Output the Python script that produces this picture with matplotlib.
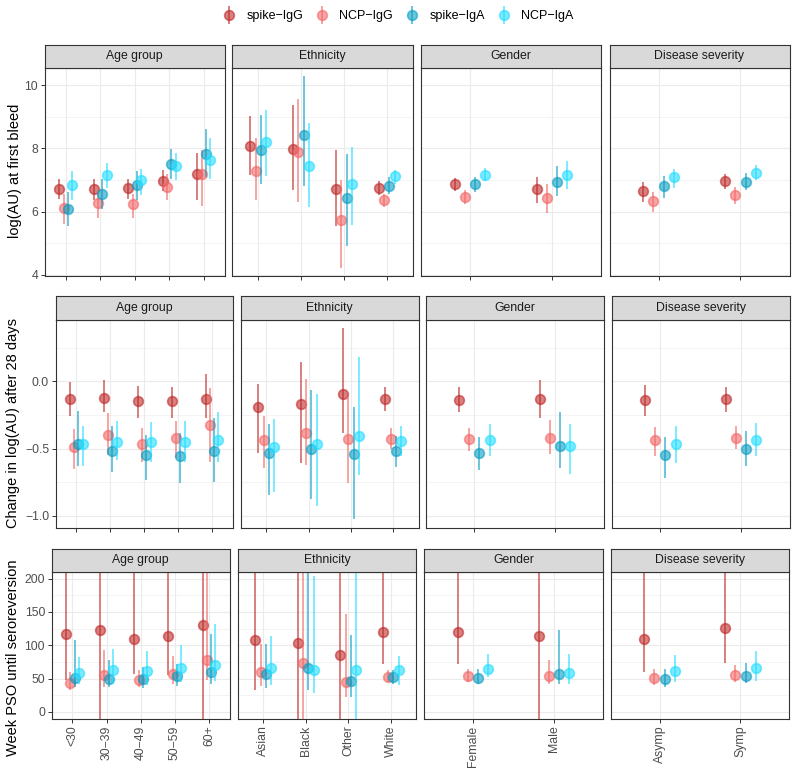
import matplotlib
matplotlib.use('Agg')
import matplotlib.pyplot as plt
from matplotlib.lines import Line2D
from matplotlib.legend_handler import HandlerTuple
import numpy as np

plt.rcParams['font.family'] = ['Liberation Sans', 'DejaVu Sans']

series = ['spike−IgG', 'NCP−IgG', 'spike−IgA', 'NCP−IgA']
colors = ['#BE2A2A', '#F26868', '#0A9EC4', '#22DDFF']

facets = ['Age group', 'Ethnicity', 'Gender', 'Disease severity']
age_groups = ['<30', '30−39', '40−49', '50−59', '60+']
ethnicities = ['Asian', 'Black', 'Other', 'White']
genders = ['Female', 'Male']
severities = ['Asymp', 'Symp']
categories = [age_groups, ethnicities, genders, severities]

# each block: one list per antibody, (estimate, lower, upper) per category
# log(AU) at first bleed
bleed_age = [
    [(6.73, 6.41, 7.04), (6.72, 6.38, 7.04), (6.75, 6.41, 7.04), (6.97, 6.65, 7.33), (7.20, 6.36, 7.86)],
    [(6.11, 5.60, 6.57), (6.27, 5.81, 6.62), (6.23, 5.81, 6.57), (6.77, 6.36, 7.20), (7.20, 6.17, 7.94)],
    [(6.09, 5.53, 6.62), (6.57, 6.09, 7.02), (6.83, 6.36, 7.29), (7.51, 7.03, 7.99), (7.81, 7.08, 8.61)],
    [(6.85, 6.38, 7.29), (7.16, 6.76, 7.54), (6.99, 6.52, 7.35), (7.43, 7.01, 7.86), (7.62, 7.04, 8.33)],
]
bleed_eth = [
    [(8.09, 7.15, 9.02), (7.99, 6.69, 9.39), (6.71, 5.53, 7.96), (6.74, 6.52, 6.97)],
    [(7.29, 6.36, 8.34), (7.88, 6.30, 9.58), (5.72, 4.22, 6.99), (6.38, 6.15, 6.57)],
    [(7.96, 6.86, 9.05), (8.43, 6.81, 10.29), (6.42, 4.90, 7.81), (6.81, 6.57, 7.10)],
    [(8.22, 7.12, 9.21), (7.43, 6.15, 8.81), (6.88, 5.56, 8.05), (7.12, 6.88, 7.33)],
]
bleed_gender = [
    [(6.86, 6.65, 7.07), (6.73, 6.27, 7.10)],
    [(6.45, 6.23, 6.67), (6.43, 5.96, 6.86)],
    [(6.87, 6.62, 7.11), (6.94, 6.48, 7.46)],
    [(7.17, 6.97, 7.39), (7.17, 6.73, 7.61)],
]
bleed_sev = [
    [(6.64, 6.30, 6.94), (6.96, 6.71, 7.20)],
    [(6.34, 5.97, 6.62), (6.52, 6.25, 6.78)],
    [(6.81, 6.44, 7.12), (6.95, 6.67, 7.23)],
    [(7.09, 6.75, 7.36), (7.23, 6.99, 7.49)],
]

# change in log(AU) after 28 days
change_age = [
    [(-0.134, -0.256, -0.002), (-0.127, -0.231, 0.010), (-0.146, -0.270, -0.035), (-0.149, -0.270, -0.040), (-0.129, -0.270, 0.052)],
    [(-0.486, -0.653, -0.355), (-0.395, -0.548, -0.238), (-0.462, -0.603, -0.350), (-0.424, -0.573, -0.295), (-0.325, -0.598, -0.052)],
    [(-0.467, -0.628, -0.221), (-0.514, -0.672, -0.333), (-0.548, -0.734, -0.400), (-0.558, -0.752, -0.387), (-0.516, -0.747, -0.270)],
    [(-0.462, -0.628, -0.330), (-0.447, -0.586, -0.295), (-0.449, -0.598, -0.300), (-0.447, -0.598, -0.295), (-0.437, -0.598, -0.226)],
]
change_eth = [
    [(-0.194, -0.536, -0.020), (-0.166, -0.610, 0.146), (-0.097, -0.382, 0.395), (-0.132, -0.221, -0.040)],
    [(-0.437, -0.643, -0.258), (-0.382, -0.618, 0.015), (-0.429, -0.759, -0.114), (-0.429, -0.506, -0.350)],
    [(-0.536, -0.841, -0.318), (-0.506, -0.871, -0.065), (-0.541, -1.025, -0.194), (-0.519, -0.638, -0.407)],
    [(-0.486, -0.826, -0.283), (-0.467, -0.926, -0.097), (-0.404, -0.697, 0.184), (-0.444, -0.556, -0.333)],
]
change_gender = [
    [(-0.136, -0.226, -0.045), (-0.132, -0.275, 0.010)],
    [(-0.429, -0.514, -0.345), (-0.424, -0.543, -0.288)],
    [(-0.536, -0.660, -0.417), (-0.479, -0.643, -0.226)],
    [(-0.439, -0.553, -0.320), (-0.479, -0.692, -0.320)],
]
change_sev = [
    [(-0.141, -0.256, -0.027), (-0.134, -0.231, -0.040)],
    [(-0.437, -0.553, -0.340), (-0.419, -0.506, -0.330)],
    [(-0.548, -0.717, -0.412), (-0.504, -0.630, -0.370)],
    [(-0.462, -0.610, -0.330), (-0.437, -0.556, -0.313)],
]

# weeks post symptom onset until seroreversion
weeks_age = [
    [(116.5, 47.5, 400), (122.5, -60, 400), (109.5, 56.5, 400), (113.5, 55, 400), (130, -60, 400)],
    [(43.5, 32.5, 60), (55, 37.5, 93.5), (47.5, 37.5, 63.5), (57.5, 42.5, 83.5), (78.5, 48.5, 400)],
    [(51.5, 37.5, 108.5), (50, 37.5, 77.5), (49, 36.5, 67.5), (53.5, 38.5, 72.5), (60, 41.5, 116.5)],
    [(58.5, 41.5, 82.5), (63.5, 41.5, 94), (61, 40, 91.5), (66.5, 45, 100), (70, 46.5, 131.5)],
]
weeks_eth = [
    [(107.5, 33.5, 400), (104, -60, 400), (85.5, -60, 400), (120, 72.5, 400)],
    [(59.5, 38.5, 101.5), (73.5, -60, 400), (45.5, 22.5, 146.5), (52.5, 45, 63.5)],
    [(57.5, 36.5, 102.5), (66, 32.5, 400), (46, 22.5, 116), (52, 41.5, 63.5)],
    [(66.5, 40, 113.5), (62.5, 29, 203.5), (63.5, -60, 400), (63, 40, 83.5)],
]
weeks_gender = [
    [(120, 72.5, 400), (114, -60, 400)],
    [(53.5, 45, 65), (53.5, 41.5, 78.5)],
    [(51, 41.5, 65), (57.5, 42.5, 122.5)],
    [(64.5, 52.5, 87.5), (59, 41.5, 87.5)],
]
weeks_sev = [
    [(110, 60, 400), (125.5, 73.5, 400)],
    [(51, 40, 65), (55, 45, 70)],
    [(49, 37.5, 65), (54.5, 43.5, 74)],
    [(61, 45, 85), (66, 46.5, 91.5)],
]

W, H = 796, 771
fig = plt.figure(figsize=(W / 100, H / 100), dpi=100)


def px_axes(x0, y0, x1, y1):
    return fig.add_axes([x0 / W, 1 - y1 / H, (x1 - x0) / W, (y1 - y0) / H])


rows = [
    dict(top=45, strip=67.5, bottom=275.5,
         xs=[(45, 224.5), (232.5, 412.5), (421, 601), (609.5, 789.5)],
         ylim=(3.97, 10.57), major=[4, 6, 8, 10], minor=[5, 7, 9],
         ticklabels=['4', '6', '8', '10'],
         ylabel='log(AU) at first bleed', label_x=15, label_y=171,
         data=[bleed_age, bleed_eth, bleed_gender, bleed_sev], xlabels=False),
    dict(top=296, strip=319.5, bottom=528,
         xs=[(56, 232.5), (241, 418.5), (426, 603.5), (612, 789.5)],
         ylim=(-1.09, 0.46), major=[-1.0, -0.5, 0.0], minor=[-0.75, -0.25, 0.25],
         ticklabels=['−1.0', '−0.5', '0.0'],
         ylabel='Change in log(AU) after 28 days', label_x=13, label_y=423,
         data=[change_age, change_eth, change_gender, change_sev], xlabels=False),
    dict(top=548.5, strip=572, bottom=718.5,
         xs=[(52, 229.5), (238, 416), (424.5, 602.5), (611, 789)],
         ylim=(-10, 210), major=[0, 50, 100, 150, 200], minor=[25, 75, 125, 175],
         ticklabels=['0', '50', '100', '150', '200'],
         ylabel='Week PSO until seroreversion', label_x=13, label_y=658,
         data=[weeks_age, weeks_eth, weeks_gender, weeks_sev], xlabels=True),
]

offsets = [-0.1875, -0.0625, 0.0625, 0.1875]
dark = '#333333'

for row in rows:
    for k, (name, cats, data) in enumerate(zip(facets, categories, row['data'])):
        x0, x1 = row['xs'][k]
        ax = px_axes(x0, row['strip'], x1, row['bottom'])
        pos = np.arange(1, len(cats) + 1)
        for s, (col, vals) in enumerate(zip(colors, data)):
            est, lo, hi = np.array(vals).T
            x = pos + offsets[s]
            ax.vlines(x, lo, hi, color=col, alpha=0.6, lw=1.4, zorder=3 + s)
            ax.plot(x, est, 'o', ms=7, mfc=col, mec=col, mew=1.2,
                    alpha=0.6, zorder=3 + s)
        ax.set_xlim(0.4, len(cats) + 0.6)
        ax.set_ylim(*row['ylim'])
        ax.set_xticks(pos)
        ax.set_yticks(row['major'])
        ax.set_yticks(row['minor'], minor=True)
        ax.grid(which='major', color='#EBEBEB', lw=0.8)
        ax.grid(which='minor', axis='y', color='#EBEBEB', lw=0.4)
        ax.set_axisbelow(True)
        for sp in ax.spines.values():
            sp.set_color(dark)
            sp.set_linewidth(0.8)
        ax.tick_params(which='major', length=3, width=0.7, color=dark,
                       labelcolor='#4D4D4D', labelsize=8.8, pad=2)
        ax.tick_params(which='minor', length=0)
        if k == 0:
            ax.set_yticklabels(row['ticklabels'])
        else:
            ax.tick_params(left=False, labelleft=False)
        if row['xlabels']:
            ax.set_xticklabels(cats, rotation=90, ha='center', va='top')
        else:
            ax.set_xticklabels([])

        sax = px_axes(x0, row['top'], x1, row['strip'])
        sax.set_facecolor('#D9D9D9')
        sax.set_xticks([])
        sax.set_yticks([])
        for sp in sax.spines.values():
            sp.set_color(dark)
            sp.set_linewidth(0.8)
        sax.text(0.5, 0.5, name, ha='center', va='center', fontsize=8.8,
                 color='#1A1A1A', transform=sax.transAxes)

    fig.text(row['label_x'] / W, 1 - row['label_y'] / H,
             row['ylabel'], rotation=90, ha='center', va='center', fontsize=10.5)

handles = [(Line2D([], [], ls='', marker='|', ms=13, mew=1.4, color=c, alpha=0.6),
            Line2D([], [], ls='', marker='o', ms=7, mew=1.2, color=c, alpha=0.6))
           for c in colors]
fig.legend(handles, series, handler_map={tuple: HandlerTuple(ndivide=1, pad=0)},
           loc='center', bbox_to_anchor=(0.5, 1 - 16 / H), ncol=4, frameon=False,
           fontsize=9, handlelength=1.0, handletextpad=0.9, columnspacing=1.0)

fig.savefig('out.png', dpi=100)
